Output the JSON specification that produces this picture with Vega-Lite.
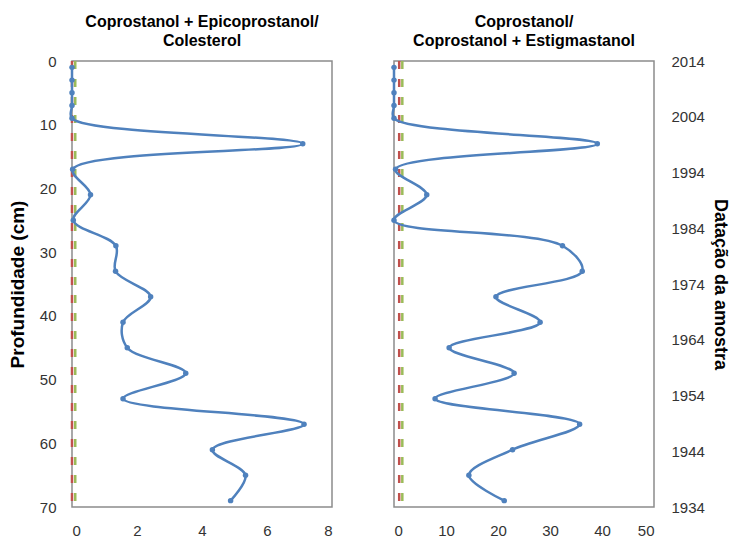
{
  "$schema": "https://vega.github.io/schema/vega-lite/v6.json",
  "padding": {"left": 7, "top": 13, "right": 0, "bottom": 5},
  "background": "white",
  "datasets": {
    "perfil": [
      {"razao": "A", "profundidade": 1, "valor": 0},
      {"razao": "A", "profundidade": 3, "valor": 0},
      {"razao": "A", "profundidade": 5, "valor": 0},
      {"razao": "A", "profundidade": 7, "valor": 0},
      {"razao": "A", "profundidade": 9, "valor": 0},
      {"razao": "A", "profundidade": 13, "valor": 7.1},
      {"razao": "A", "profundidade": 17, "valor": 0.02},
      {"razao": "A", "profundidade": 21, "valor": 0.57},
      {"razao": "A", "profundidade": 25, "valor": 0.04},
      {"razao": "A", "profundidade": 29, "valor": 1.35},
      {"razao": "A", "profundidade": 33, "valor": 1.34},
      {"razao": "A", "profundidade": 37, "valor": 2.42},
      {"razao": "A", "profundidade": 41, "valor": 1.57},
      {"razao": "A", "profundidade": 45, "valor": 1.7},
      {"razao": "A", "profundidade": 49, "valor": 3.5},
      {"razao": "A", "profundidade": 53, "valor": 1.57},
      {"razao": "A", "profundidade": 57, "valor": 7.14},
      {"razao": "A", "profundidade": 61, "valor": 4.32},
      {"razao": "A", "profundidade": 65, "valor": 5.34},
      {"razao": "A", "profundidade": 69, "valor": 4.88},
      {"razao": "B", "profundidade": 1, "valor": 0},
      {"razao": "B", "profundidade": 3, "valor": 0},
      {"razao": "B", "profundidade": 5, "valor": 0},
      {"razao": "B", "profundidade": 7, "valor": 0},
      {"razao": "B", "profundidade": 9, "valor": 0},
      {"razao": "B", "profundidade": 13, "valor": 39.1},
      {"razao": "B", "profundidade": 17, "valor": 0.3},
      {"razao": "B", "profundidade": 21, "valor": 6.3},
      {"razao": "B", "profundidade": 25, "valor": 0},
      {"razao": "B", "profundidade": 29, "valor": 32.4},
      {"razao": "B", "profundidade": 33, "valor": 36.2},
      {"razao": "B", "profundidade": 37, "valor": 19.6},
      {"razao": "B", "profundidade": 41, "valor": 28.1},
      {"razao": "B", "profundidade": 45, "valor": 10.6},
      {"razao": "B", "profundidade": 49, "valor": 23.1},
      {"razao": "B", "profundidade": 53, "valor": 7.9},
      {"razao": "B", "profundidade": 57, "valor": 35.7},
      {"razao": "B", "profundidade": 61, "valor": 22.8},
      {"razao": "B", "profundidade": 65, "valor": 14.4},
      {"razao": "B", "profundidade": 69, "valor": 21.2}
    ],
    "limiares": [
      {"razao": "A", "nivel": "inferior", "valor": 0.0},
      {"razao": "A", "nivel": "superior", "valor": 0.1},
      {"razao": "B", "nivel": "inferior", "valor": 1.0},
      {"razao": "B", "nivel": "superior", "valor": 1.6}
    ],
    "datacao": [
      {"ano": 1934},
      {"ano": 2014}
    ]
  },
  "config": {
    "font": "Liberation Sans",
    "view": {"stroke": "#8c8c8c", "strokeWidth": 1.5},
    "concat": {"spacing": 62},
    "title": {"fontSize": 16, "fontWeight": "bold", "color": "#000000", "lineHeight": 19, "offset": 5, "anchor": "middle"},
    "axis": {
      "grid": false,
      "ticks": false,
      "domain": false,
      "labelFontSize": 15,
      "labelColor": "#333333",
      "titleFontSize": 19,
      "titleFontWeight": "bold",
      "titleColor": "#000000"
    }
  },
  "bounds": "flush",
  "hconcat": [
    {
      "width": 260,
      "height": 446,
      "title": {"text": ["Coprostanol + Epicoprostanol/", "Colesterol"]},
      "layer": [
        {
          "data": {"name": "limiares"},
          "transform": [{"filter": "datum.razao === 'A'"}],
          "mark": {"type": "rule", "strokeWidth": 2.5, "strokeDash": [8, 10]},
          "encoding": {
            "x": {"field": "valor", "type": "quantitative", "scale": {"domain": [0, 8], "nice": false}},
            "color": {"field": "nivel", "type": "nominal", "scale": {"domain": ["inferior", "superior"], "range": ["#C0504D", "#9BBB59"]}, "legend": null},
            "strokeDashOffset": {"field": "nivel", "type": "nominal", "scale": {"domain": ["inferior", "superior"], "range": [0, 9]}, "legend": null}
          }
        },
        {
          "data": {"name": "perfil"},
          "transform": [{"filter": "datum.razao === 'A'"}],
          "mark": {"type": "line", "color": "#4F81BD", "strokeWidth": 2.5, "interpolate": "catmull-rom", "point": {"filled": true, "size": 30, "color": "#4F81BD"}},
          "encoding": {
            "x": {"field": "valor", "type": "quantitative", "title": null, "scale": {"domain": [0, 8], "nice": false}, "axis": {"values": [0, 2, 4, 6, 8], "labelPadding": 16}},
            "y": {"field": "profundidade", "type": "quantitative", "title": "Profundidade (cm)", "scale": {"domain": [0, 70], "reverse": true, "nice": false}, "axis": {"values": [0, 10, 20, 30, 40, 50, 60, 70], "labelPadding": 16, "titlePadding": 12}},
            "order": {"field": "profundidade", "type": "quantitative"}
          }
        }
      ]
    },
    {
      "width": 260,
      "height": 446,
      "title": {"text": ["Coprostanol/", "Coprostanol + Estigmastanol"]},
      "resolve": {"scale": {"y": "independent"}},
      "layer": [
        {
          "data": {"name": "limiares"},
          "transform": [{"filter": "datum.razao === 'B'"}],
          "mark": {"type": "rule", "strokeWidth": 2.5, "strokeDash": [8, 10]},
          "encoding": {
            "x": {"field": "valor", "type": "quantitative", "scale": {"domain": [0, 50], "nice": false}},
            "color": {"field": "nivel", "type": "nominal", "scale": {"domain": ["inferior", "superior"], "range": ["#C0504D", "#9BBB59"]}, "legend": null},
            "strokeDashOffset": {"field": "nivel", "type": "nominal", "scale": {"domain": ["inferior", "superior"], "range": [0, 9]}, "legend": null}
          }
        },
        {
          "data": {"name": "perfil"},
          "transform": [{"filter": "datum.razao === 'B'"}],
          "mark": {"type": "line", "color": "#4F81BD", "strokeWidth": 2.5, "interpolate": "catmull-rom", "point": {"filled": true, "size": 30, "color": "#4F81BD"}},
          "encoding": {
            "x": {"field": "valor", "type": "quantitative", "title": null, "scale": {"domain": [0, 50], "nice": false}, "axis": {"values": [0, 10, 20, 30, 40, 50], "labelPadding": 16}},
            "y": {"field": "profundidade", "type": "quantitative", "scale": {"domain": [0, 70], "reverse": true, "nice": false}, "axis": null},
            "order": {"field": "profundidade", "type": "quantitative"}
          }
        },
        {
          "data": {"name": "datacao"},
          "mark": {"type": "point", "opacity": 0},
          "encoding": {
            "y": {"field": "ano", "type": "quantitative", "title": "Datação da amostra", "scale": {"domain": [1934, 2014], "nice": false, "zero": false}, "axis": {"orient": "right", "values": [1934, 1944, 1954, 1964, 1974, 1984, 1994, 2004, 2014], "format": "d", "labelPadding": 17, "titlePadding": 6, "titleFontSize": 18}}
          }
        }
      ]
    }
  ]
}
